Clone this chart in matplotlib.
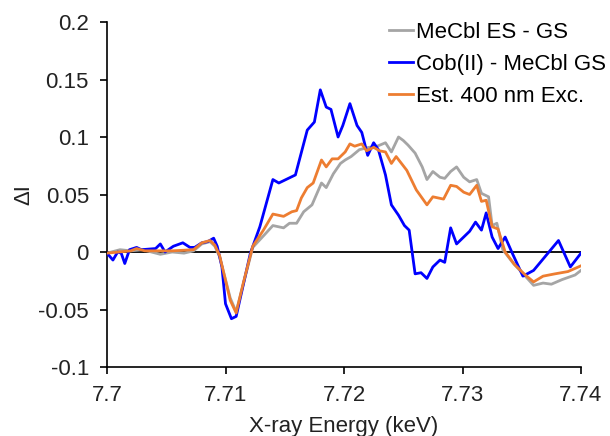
import matplotlib
matplotlib.use("Agg")
import matplotlib.pyplot as plt

plt.rcParams['font.family'] = ['Liberation Sans', 'DejaVu Sans']

# MeCbl ES - GS (grey)
grey_x = [7.7000, 7.7011, 7.7020, 7.7030, 7.7045, 7.7055, 7.7065, 7.7073, 7.7080, 7.7087,
          7.7091, 7.7095, 7.7104, 7.7109, 7.7115, 7.7123, 7.7132, 7.7140, 7.7149, 7.7154,
          7.7160, 7.7166, 7.7173, 7.7181, 7.7185, 7.7191, 7.7197, 7.7201, 7.7206, 7.7213,
          7.7221, 7.7228, 7.7235, 7.7240, 7.7246, 7.7250, 7.7254, 7.7260, 7.7266, 7.7270,
          7.7275, 7.7281, 7.7285, 7.7290, 7.7295, 7.7301, 7.7306, 7.7312, 7.7316, 7.7322,
          7.7325, 7.7329, 7.7334, 7.7343, 7.7353, 7.7360, 7.7368, 7.7375, 7.7384, 7.7395,
          7.7400]
grey_y = [-0.001, 0.002, 0.001, 0.002, -0.002, 0.000, -0.001, 0.001, 0.007, 0.009,
          0.005, -0.004, -0.040, -0.052, -0.028, 0.004, 0.014, 0.023, 0.021, 0.025,
          0.025, 0.035, 0.041, 0.060, 0.056, 0.068, 0.077, 0.080, 0.083, 0.089,
          0.091, 0.092, 0.095, 0.087, 0.100, 0.097, 0.093, 0.086, 0.074, 0.063,
          0.070, 0.065, 0.064, 0.070, 0.074, 0.065, 0.061, 0.063, 0.051, 0.048,
          0.023, 0.025, 0.002, -0.010, -0.021, -0.029, -0.027, -0.028, -0.024, -0.020,
          -0.016]

# Cob(II) - MeCbl GS (blue)
blue_x = [7.7000, 7.7005, 7.7009, 7.7012, 7.7015, 7.7019, 7.7025, 7.7029, 7.7041, 7.7045,
          7.7049, 7.7056, 7.7064, 7.7070, 7.7074, 7.7080, 7.7085, 7.7090, 7.7093, 7.7097,
          7.7100, 7.7105, 7.7109, 7.7121, 7.7129, 7.7140, 7.7145, 7.7159, 7.7169, 7.7175,
          7.7180, 7.7185, 7.7189, 7.7195, 7.7199, 7.7205, 7.7211, 7.7215, 7.7220, 7.7225,
          7.7229, 7.7235, 7.7240, 7.7246, 7.7251, 7.7255, 7.7260, 7.7265, 7.7270, 7.7275,
          7.7281, 7.7285, 7.7290, 7.7295, 7.7301, 7.7306, 7.7311, 7.7316, 7.7320, 7.7325,
          7.7330, 7.7336, 7.7342, 7.7351, 7.7360, 7.7381, 7.7391, 7.7400]
blue_y = [-0.001, -0.007, 0.000, -0.001, -0.010, 0.002, 0.004, 0.002, 0.003, 0.007,
          0.000, 0.005, 0.008, 0.004, 0.004, 0.008, 0.009, 0.012, 0.005, -0.013,
          -0.045, -0.058, -0.056, -0.001, 0.022, 0.063, 0.060, 0.067, 0.106, 0.113,
          0.141, 0.126, 0.124, 0.100, 0.110, 0.129, 0.110, 0.104, 0.084, 0.095,
          0.089, 0.067, 0.041, 0.032, 0.023, 0.019, -0.019, -0.018, -0.023, -0.013,
          -0.007, -0.009, 0.021, 0.007, 0.013, 0.018, 0.026, 0.019, 0.034, 0.013,
          0.003, 0.013, -0.001, -0.021, -0.016, 0.010, -0.013, -0.001]

# Est. 400 nm Exc. (orange)
orange_x = [7.7000, 7.7010, 7.7020, 7.7025, 7.7032, 7.7055, 7.7073, 7.7080, 7.7087, 7.7091,
            7.7095, 7.7104, 7.7109, 7.7115, 7.7123, 7.7132, 7.7140, 7.7149, 7.7156, 7.7160,
            7.7164, 7.7169, 7.7174, 7.7181, 7.7185, 7.7190, 7.7195, 7.7201, 7.7205, 7.7209,
            7.7215, 7.7219, 7.7225, 7.7230, 7.7235, 7.7240, 7.7244, 7.7253, 7.7261, 7.7270,
            7.7275, 7.7284, 7.7290, 7.7295, 7.7301, 7.7306, 7.7312, 7.7316, 7.7320, 7.7325,
            7.7330, 7.7336, 7.7344, 7.7353, 7.7360, 7.7368, 7.7378, 7.7389, 7.7400]
orange_y = [-0.001, 0.000, 0.001, 0.003, 0.001, 0.001, 0.002, 0.008, 0.010, 0.006,
            -0.003, -0.042, -0.053, -0.027, 0.005, 0.019, 0.033, 0.031, 0.035, 0.036,
            0.047, 0.056, 0.060, 0.080, 0.074, 0.081, 0.081, 0.087, 0.094, 0.092,
            0.094, 0.088, 0.091, 0.088, 0.087, 0.077, 0.083, 0.071, 0.054, 0.041,
            0.048, 0.046, 0.058, 0.057, 0.052, 0.050, 0.058, 0.044, 0.045, 0.022,
            0.020, 0.000, -0.011, -0.020, -0.026, -0.021, -0.019, -0.017, -0.012]

labels = ["MeCbl ES - GS", "Cob(II) - MeCbl GS", "Est. 400 nm Exc."]
x_ticks = [7.70, 7.71, 7.72, 7.73, 7.74]
x_tick_labels = ["7.7", "7.71", "7.72", "7.73", "7.74"]
y_ticks = [-0.1, -0.05, 0, 0.05, 0.1, 0.15, 0.2]
y_tick_labels = ["-0.1", "-0.05", "0", "0.05", "0.1", "0.15", "0.2"]

fig = plt.figure(figsize=(6.1, 4.36), dpi=100)
ax = fig.add_axes([107/610, 1 - 367/436, (581 - 107)/610, (367 - 22)/436])

ax.axhline(0, color='black', lw=1.3, zorder=1)
ax.plot(grey_x, grey_y, color='#A5A5A5', lw=2.0, label=labels[0], zorder=2)
ax.plot(blue_x, blue_y, color='#0000FF', lw=2.0, label=labels[1], zorder=3)
ax.plot(orange_x, orange_y, color='#ED7D31', lw=2.0, label=labels[2], zorder=4)

ax.set_xlim(7.70, 7.74)
ax.set_ylim(-0.1, 0.2)
ax.set_xticks(x_ticks)
ax.set_xticklabels(x_tick_labels)
ax.set_yticks(y_ticks)
ax.set_yticklabels(y_tick_labels)
ax.spines['top'].set_visible(False)
ax.spines['right'].set_visible(False)
for s in ['left', 'bottom']:
    ax.spines[s].set_linewidth(1.2)
ax.tick_params(axis='both', direction='out', length=5, width=1.2, labelsize=16, pad=8,
               colors='black', labelcolor='#222222')
ax.set_xlabel("X-ray Energy (keV)", fontsize=16, color='#222222', labelpad=7)
ax.set_ylabel("ΔI", fontsize=16, color='#222222', labelpad=3)

leg = fig.legend(loc='upper left', bbox_to_anchor=(389/610, 1 - 22/436), frameon=False,
                 fontsize=16, handlelength=1.1, handletextpad=0.12, labelspacing=0.5,
                 borderaxespad=0.0, borderpad=0.0)

fig.savefig("out.png", dpi=100)
